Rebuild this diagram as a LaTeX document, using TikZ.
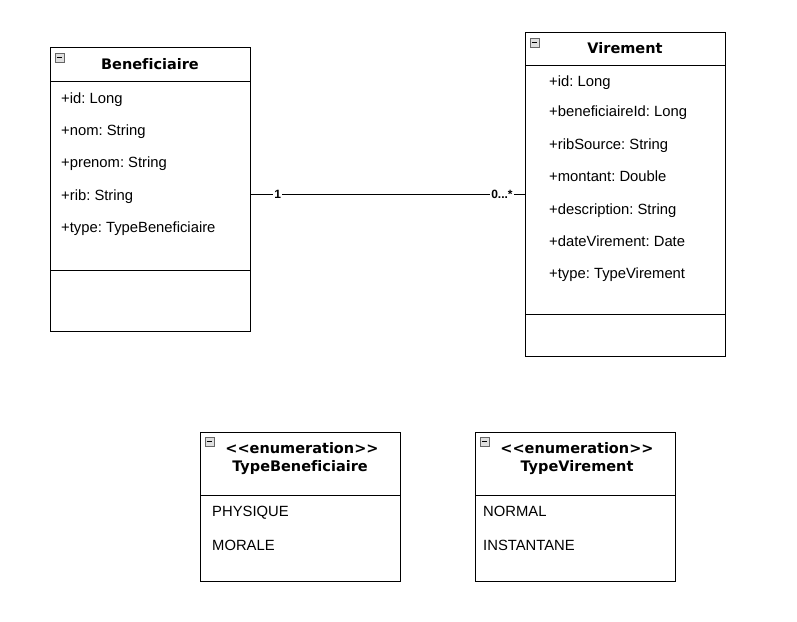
\documentclass[tikz,border=0pt]{standalone}
\usepackage{fontspec}
\setmainfont{Liberation Sans}[Ligatures=NoCommon]
\newfontfamily\titlefont{DejaVu Sans}[Ligatures=NoCommon]
\frenchspacing
\begin{document}
\begin{tikzpicture}[x=1pt,y=-1pt,
  box/.style={draw=black, line width=0.9pt, anchor=north west, minimum width=200pt, inner sep=0pt, fill=white},
  attr/.style={anchor=base west, yshift=-5.3pt, inner sep=0pt, font=\fontsize{14.8}{17}\selectfont},
  title/.style={anchor=base, yshift=-5.3pt, inner sep=0pt, font=\titlefont\fontsize{14.5}{17}\selectfont\bfseries},
  sep/.style={line width=0.9pt},
  mult/.style={fill=white, inner sep=1pt, font=\fontsize{12}{13}\selectfont\bfseries},
  icon/.style={draw=gray!80!black, fill=gray!25, line width=0.5pt, minimum size=8.5pt, inner sep=0pt, anchor=north west}
]
\useasboundingbox (0,0) rectangle (797,621);
\fill[white] (0,0) rectangle (797,621);

% Beneficiaire
\node[box, minimum height=284pt] (benef) at (50,47) {};
\draw[sep] (50,81) -- (250,81);
\draw[sep] (50,270) -- (250,270);
\node[icon] (ic1) at (55,53) {};
\draw[line width=0.9pt] (56.5,57.3) -- (62,57.3);
\node[title] (bt) at (150,64) {Beneficiaire};
\node[attr] (b1) at (61,98) {+id: Long};
\node[attr] (b2) at (61,130) {+nom: String};
\node[attr] (b3) at (61,162) {+prenom: String};
\node[attr] (b4) at (61,195) {+rib: String};
\node[attr] (b5) at (61,227) {+type: TypeBeneficiaire};

% Virement
\node[box, minimum height=324pt] (vir) at (525,32) {};
\draw[sep] (525,65) -- (725,65);
\draw[sep] (525,314) -- (725,314);
\node[icon] (ic2) at (530,38) {};
\draw[line width=0.9pt] (531.5,42.3) -- (537,42.3);
\node[title] (vt) at (625,48) {Virement};
\node[attr] (v1) at (549,81) {+id: Long};
\node[attr] (v2) at (549,111) {+beneficiaireId: Long};
\node[attr] (v3) at (549,144) {+ribSource: String};
\node[attr] (v4) at (549,176) {+montant: Double};
\node[attr] (v5) at (549,209) {+description: String};
\node[attr] (v6) at (549,241) {+dateVirement: Date};
\node[attr] (v7) at (549,273) {+type: TypeVirement};

% association
\draw[line width=0.9pt] (benef.east |- vir.west) -- (vir.west)
  node[mult, pos=0.098] (m1) {1}
  node[mult, pos=0.916] (m2) {0...*};

% TypeBeneficiaire
\node[box, minimum height=149pt] (tb) at (200,432) {};
\draw[sep] (200,495) -- (400,495);
\node[icon] (ic3) at (205,437) {};
\draw[line width=0.9pt] (206.5,441.3) -- (212,441.3);
\node[title] (tbs) at (302,448) {{<}{<}enumeration{>}{>}};
\node[title] (tbn) at (300,466) {TypeBeneficiaire};
\node[attr] (tb1) at (212,511) {PHYSIQUE};
\node[attr] (tb2) at (212,545) {MORALE};

% TypeVirement
\node[box, minimum height=149pt] (tv) at (475,432) {};
\draw[sep] (475,495) -- (675,495);
\node[icon] (ic4) at (480,437) {};
\draw[line width=0.9pt] (481.5,441.3) -- (487,441.3);
\node[title] (tvs) at (577,448) {{<}{<}enumeration{>}{>}};
\node[title] (tvn) at (577,466) {TypeVirement};
\node[attr] (tv1) at (483,511) {NORMAL};
\node[attr] (tv2) at (483,545) {INSTANTANE};
\end{tikzpicture}
\end{document}
